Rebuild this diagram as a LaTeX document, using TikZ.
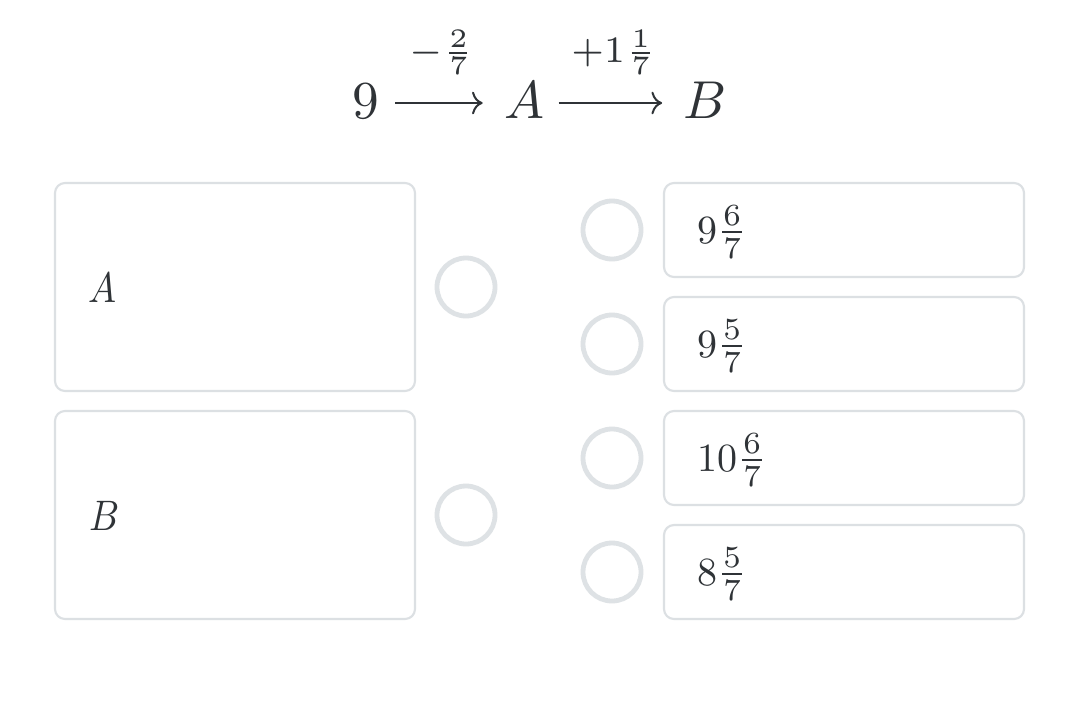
\documentclass[tikz,border=0pt]{standalone}
\usepackage{amsmath}
\usetikzlibrary{arrows.meta}
\definecolor{txt}{HTML}{2F3337}
\definecolor{bord}{HTML}{DCE0E3}
\definecolor{ringc}{HTML}{DEE2E5}
\newcommand{\topmth}[1]{\scalebox{4}{$#1$}}
\newcommand{\lblmth}[1]{\scalebox{4}{$\scriptstyle #1$}}
\newcommand{\ansmth}[1]{\scalebox{3}{$#1$}}
\newcommand{\varmth}[1]{\scalebox{2.8}[3.2]{$#1$}}
\newcommand{\mixfrac}[2]{\scalebox{1.1}{$\tfrac{\mkern0.5mu#1\mkern0.5mu}{#2}$}}
\begin{document}
\begin{tikzpicture}[x=0.75pt,y=-0.75pt,
  every node/.style={inner sep=0pt, outer sep=0pt, text=txt},
  big/.style={text height=30pt, text depth=7.5pt},
  card/.style={draw=bord, line width=1.6pt, rounded corners=7.5pt, fill=white},
  radio/.style={draw=ringc, line width=3.6pt, circle, minimum size=43.5pt},
  arr/.style={-{Computer Modern Rightarrow[length=8pt,width=17pt]}, line width=1.5pt, draw=txt}
]
\useasboundingbox[fill=white] (0,0) rectangle (1080,721);

% top chain
\node[big, anchor=base] (n9) at (366,118) {\topmth{9}};
\node[big, anchor=base] (nA) at (524,118) {\topmth{A}};
\node[big, anchor=base] (nB) at (705,118) {\topmth{B}};
\draw[arr, shorten <=12pt, shorten >=16pt] (n9.east) -- (nA.west)
  node[midway, above=21pt] (l1) {\lblmth{-\frac{2}{7}}};
\draw[arr, shorten <=11pt, shorten >=16pt] (nA.east) -- (nB.west)
  node[midway, above=21pt] (l2) {\lblmth{+1\frac{1}{7}}};

% left cards
\node[card, minimum width=270pt, minimum height=156pt] (cA) at (235,287) {};
\node[card, minimum width=270pt, minimum height=156pt] (cB) at (235,515) {};
\node[anchor=base west] (tA) at (88,302) {\varmth{A}};
\node[anchor=base west] (tB) at (89,530) {\varmth{B}};
\node[radio] (rA) at (466,287) {};
\node[radio] (rB) at (466,515) {};

% right options
\node[radio] (r1) at (612,230) {};
\node[radio] (r2) at (612,344) {};
\node[radio] (r3) at (612,458) {};
\node[radio] (r4) at (612,572) {};
\node[card, minimum width=270pt, minimum height=70.5pt] (o1) at (844,230) {};
\node[card, minimum width=270pt, minimum height=70.5pt] (o2) at (844,344) {};
\node[card, minimum width=270pt, minimum height=70.5pt] (o3) at (844,458) {};
\node[card, minimum width=270pt, minimum height=70.5pt] (o4) at (844,572) {};
\node[anchor=base west] (t1) at (697,243) {\ansmth{9\mixfrac{6}{7}}};
\node[anchor=base west] (t2) at (697,357) {\ansmth{9\mixfrac{5}{7}}};
\node[anchor=base west] (t3) at (697,471) {\ansmth{10\mixfrac{6}{7}}};
\node[anchor=base west] (t4) at (697,585) {\ansmth{8\mixfrac{5}{7}}};
\end{tikzpicture}
\end{document}
